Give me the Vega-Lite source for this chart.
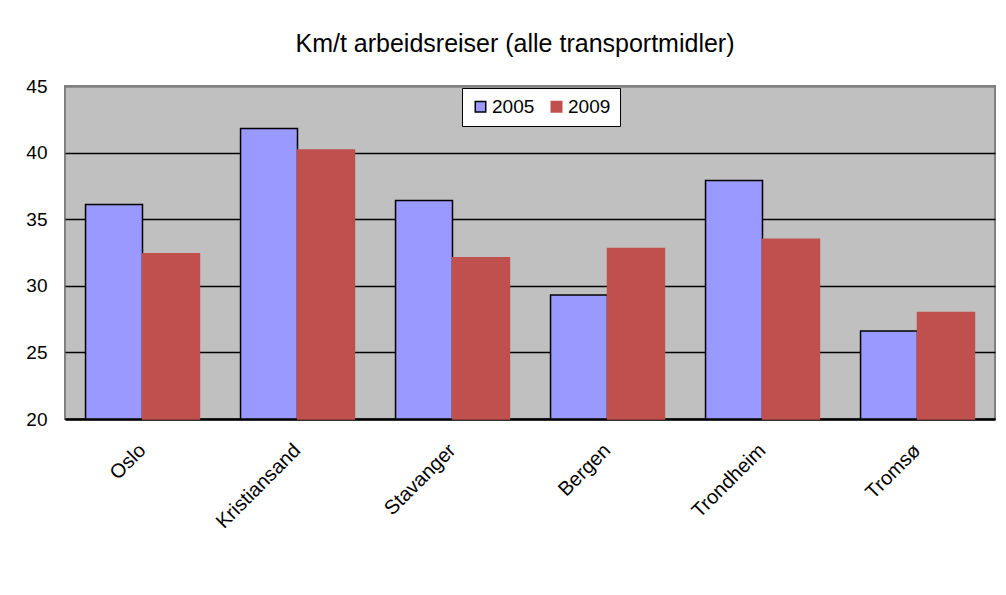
{
  "$schema": "https://vega.github.io/schema/vega-lite/v6.json",
  "autosize": "none",
  "width": 930,
  "height": 333,
  "padding": {"left": 65, "top": 86, "right": 11, "bottom": 176},
  "background": "white",
  "title": {
    "text": "Km/t arbeidsreiser (alle transportmidler)",
    "font": "Liberation Sans",
    "fontSize": 25,
    "fontWeight": "normal",
    "color": "black",
    "anchor": "middle",
    "dx": -15,
    "offset": 20
  },
  "data": {
    "values": [
      {"city": "Oslo", "year": "2005", "value": 36.1},
      {"city": "Oslo", "year": "2009", "value": 32.4},
      {"city": "Kristiansand", "year": "2005", "value": 41.8},
      {"city": "Kristiansand", "year": "2009", "value": 40.2},
      {"city": "Stavanger", "year": "2005", "value": 36.4},
      {"city": "Stavanger", "year": "2009", "value": 32.1},
      {"city": "Bergen", "year": "2005", "value": 29.3},
      {"city": "Bergen", "year": "2009", "value": 32.8},
      {"city": "Trondheim", "year": "2005", "value": 37.9},
      {"city": "Trondheim", "year": "2009", "value": 33.5},
      {"city": "Tromsø", "year": "2005", "value": 26.6},
      {"city": "Tromsø", "year": "2009", "value": 28.0}
    ]
  },
  "mark": {"type": "bar", "strokeWidth": 1.5},
  "encoding": {
    "x": {
      "field": "city",
      "type": "nominal",
      "sort": null,
      "title": null,
      "scale": {"paddingInner": 0.265, "paddingOuter": 0.1325},
      "axis": {
        "labelAngle": -45,
        "labelAlign": "right",
        "labelBaseline": "middle",
        "labelFontSize": 20,
        "labelFont": "Liberation Sans",
        "labelColor": "black",
        "labelPadding": 28,
        "ticks": false,
        "domainColor": "black",
        "domainWidth": 2.5
      }
    },
    "xOffset": {"field": "year", "type": "nominal", "scale": {"paddingInner": 0, "paddingOuter": 0}},
    "y": {
      "field": "value",
      "type": "quantitative",
      "title": null,
      "scale": {"domain": [20, 45], "nice": false, "zero": false},
      "axis": {
        "values": [20, 25, 30, 35, 40, 45],
        "labelFontSize": 19,
        "labelFont": "Liberation Sans",
        "labelColor": "black",
        "labelPadding": 18,
        "ticks": false,
        "domain": false,
        "grid": true,
        "gridColor": {"condition": {"test": "datum.value === 45", "value": "#808080"}, "value": "black"},
        "gridWidth": {"condition": {"test": "datum.value === 45", "value": 2.5}, "value": 1.5},
        "gridOpacity": 1
      }
    },
    "y2": {"datum": 20},
    "fill": {
      "field": "year",
      "type": "nominal",
      "title": null,
      "scale": {"range": ["#9999FF", "#C0504D"]},
      "legend": {
        "orient": "none",
        "legendX": 397,
        "legendY": 2,
        "direction": "horizontal",
        "fillColor": "white",
        "strokeColor": "black",
        "padding": 9,
        "symbolType": "square",
        "symbolSize": 110,
        "symbolStrokeWidth": 1.5,
        "labelFontSize": 19,
        "labelFont": "Liberation Sans",
        "labelColor": "black",
        "labelOffset": 2,
        "columnPadding": 12
      }
    },
    "stroke": {
      "field": "year",
      "type": "nominal",
      "title": null,
      "scale": {"range": ["black", "#C0504D"]}
    }
  },
  "config": {
    "view": {"fill": "#C0C0C0", "stroke": "#808080", "strokeWidth": 2}
  }
}
